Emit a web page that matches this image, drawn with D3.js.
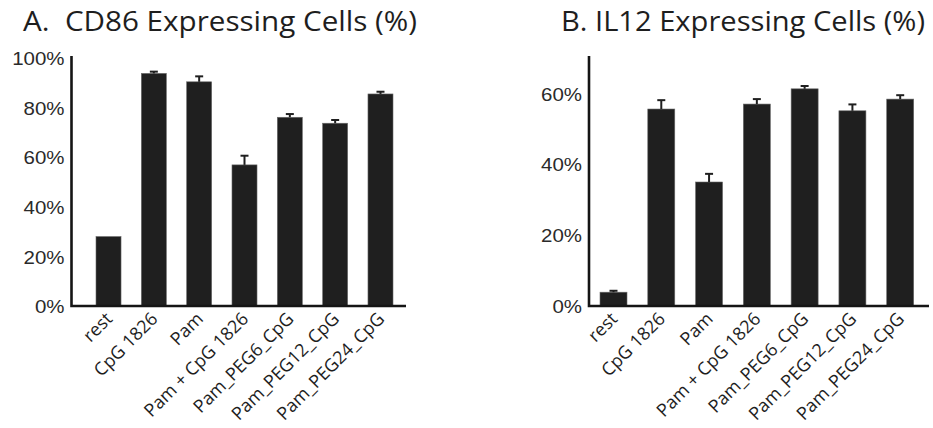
<!DOCTYPE html>
<html>
<head>
<meta charset="utf-8">
<script src="https://cdn.jsdelivr.net/npm/d3@7"></script>
<style>
  body { margin: 0; background: #fff; }
  svg { display: block; }
</style>
</head>
<body>
<svg id="chart" width="933" height="428"></svg>
<script>
// Treatment groups shared by both panels
const categories = ["rest", "CpG 1826", "Pam", "Pam + CpG 1826", "Pam_PEG6_CpG", "Pam_PEG12_CpG", "Pam_PEG24_CpG"];

// Panel A: CD86 expressing cells (%), mean and upper error
const cd86Mean = [28, 93.8, 90.4, 56.9, 76.1, 73.7, 85.5];
const cd86Err  = [0, 0.7, 2.2, 3.7, 1.3, 1.3, 0.9];
const cd86Ticks = [0, 20, 40, 60, 80, 100];

// Panel B: IL12 expressing cells (%), mean and upper error
const il12Mean = [3.9, 55.6, 35.0, 57.0, 61.3, 55.1, 58.4];
const il12Err  = [0.4, 2.5, 2.3, 1.4, 0.8, 1.8, 1.1];
const il12Ticks = [0, 20, 40, 60];

const svg = d3.select("#chart");
const barColor = "#1f1f1f";
const inkColor = "#151515";

function panel(opt) {
  const g = svg.append("g");
  const baseY = 306, topY = 58;

  const y = d3.scaleLinear().domain([0, opt.yMax]).range([baseY, topY]);
  const x = d3.scaleBand().domain(categories)
    .range([opt.bandLeft, opt.bandRight])
    .paddingInner(opt.padInner).paddingOuter(0);

  // title
  g.append("text")
    .attr("x", opt.titleX).attr("y", 31)
    .attr("font-family", "'Open Sans', sans-serif")
    .attr("font-size", 27)
    .attr("fill", "#1e1e1e")
    .attr("textLength", opt.titleLen)
    .attr("lengthAdjust", "spacingAndGlyphs")
    .style("white-space", "pre")
    .attr("xml:space", "preserve")
    .text(opt.title);

  // bars
  g.selectAll("rect.bar").data(opt.means).join("rect")
    .attr("class", "bar")
    .attr("x", (d, i) => x(categories[i]))
    .attr("width", x.bandwidth())
    .attr("y", d => y(d))
    .attr("height", d => baseY - y(d))
    .attr("fill", barColor)
    .attr("stroke", "#6a6a6a")
    .attr("stroke-width", 0.6);

  // upper error whiskers
  const eb = g.selectAll("g.err").data(opt.means.map((m, i) => ({ m, e: opt.errs[i], c: categories[i] })))
    .join("g").attr("class", "err");
  eb.filter(d => d.e > 0).append("line")
    .attr("x1", d => x(d.c) + x.bandwidth() / 2)
    .attr("x2", d => x(d.c) + x.bandwidth() / 2)
    .attr("y1", d => y(d.m))
    .attr("y2", d => y(d.m + d.e))
    .attr("stroke", barColor).attr("stroke-width", 2);
  eb.filter(d => d.e > 0).append("line")
    .attr("x1", d => x(d.c) + x.bandwidth() / 2 - 4)
    .attr("x2", d => x(d.c) + x.bandwidth() / 2 + 4)
    .attr("y1", d => y(d.m + d.e))
    .attr("y2", d => y(d.m + d.e))
    .attr("stroke", barColor).attr("stroke-width", 2);

  // y axis
  const yAxis = d3.axisLeft(y).tickValues(opt.ticks).tickSize(0).tickPadding(0)
    .tickFormat(d => d + "%");
  const ya = g.append("g").attr("transform", `translate(${opt.axisX},0)`).call(yAxis);
  ya.select(".domain").remove();
  ya.selectAll("text")
    .attr("font-family", "'Liberation Sans', Arial, sans-serif")
    .attr("font-size", 17.5)
    .attr("fill", "#2a2a2a")
    .attr("x", -6)
    .attr("dy", "0.38em")
    .attr("transform", "scale(1.17,1)");

  // axis lines
  g.append("path")
    .attr("d", `M${opt.axisX},${y(opt.yMax) - 2}V${baseY}H${opt.right}`)
    .attr("fill", "none")
    .attr("stroke", inkColor)
    .attr("stroke-width", 2.6);

  // rotated category labels
  g.selectAll("text.cat").data(categories).join("text")
    .attr("class", "cat")
    .attr("font-family", "'Open Sans', sans-serif")
    .attr("font-size", 18)
    .attr("fill", "#1e1e1e")
    .attr("text-anchor", "end")
    .attr("transform", d => `translate(${x(d) + x.bandwidth() / 2 + 5},${baseY + 14}) rotate(-45)`)
    .text(d => d);
}

panel({
  title: "A.  CD86 Expressing Cells (%)", titleX: 23, titleLen: 394,
  axisX: 71.5, right: 406, bandLeft: 96, bandRight: 393, padInner: 0.448,
  yMax: 100, ticks: cd86Ticks, means: cd86Mean, errs: cd86Err
});

panel({
  title: "B. IL12 Expressing Cells (%)", titleX: 561, titleLen: 364,
  axisX: 589, right: 929, bandLeft: 600, bandRight: 913.7, padInner: 0.435,
  yMax: 70, ticks: il12Ticks, means: il12Mean, errs: il12Err
});
</script>
</body>
</html>
